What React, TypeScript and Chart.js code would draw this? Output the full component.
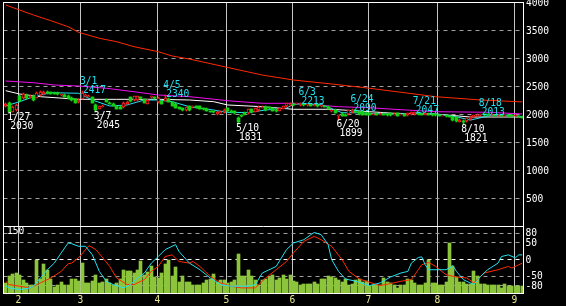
import React, { useEffect, useRef } from "react";
import { Chart, registerables } from "chart.js";
Chart.register(...registerables);

const W = 566;
const H = 306;

// ---- categories (trading-day index 0 = 2022-01-26) ----
const monthLabels = ["2", "3", "4", "5", "6", "7", "8", "9"];
const monthStart = [4, 22, 44, 64, 83, 105, 125, 147];
const dayCount = 150;

const priceTicks = [500, 1000, 1500, 2000, 2500, 3000, 3500, 4000];
const rciTicks = [80, 50, 0, -50, -80];
const volumeTickLabel = 150;

// ---- daily candles ----
const opens = [
  2152, 2205, 2045, 2080, 2330, 2295, 2348, 2300, 2330, 2300,
  2340, 2360, 2405, 2395, 2390, 2385, 2340, 2355, 2330, 2300,
  2270, 2215, 2280, 2330, 2320, 2310, 2170, 2100, 2140, 2259,
  2205, 2190, 2152, 2140, 2130, 2180, 2310, 2260, 2260, 2310,
  2270, 2190, 2315, 2300, 2215, 2240, 2250, 2280, 2220, 2190,
  2130, 2115, 2080, 2150, 2130, 2150, 2150, 2110, 2100, 2060,
  2050, 2010, 2030, 2045, 2116, 2070, 2060, 1938, 1975, 2030,
  2025, 2090, 2050, 2080, 2125, 2135, 2120, 2115, 2080, 2065,
  2100, 2152, 2170, 2190, 2190, 2165, 2190, 2170, 2180, 2160,
  2170, 2150, 2150, 2135, 2060, 2080, 1965, 2010, 2000, 2009,
  2040, 2080, 2045, 2050, 2030, 2020, 2000, 2015, 2000, 2010,
  2000, 2020, 2000, 2020, 1995, 2010, 1990, 2010, 2010, 2035,
  2015, 2000, 2015, 2000, 1995, 1990, 1980, 1990, 1970, 1960,
  1950, 1870, 1880, 1880, 1920, 1950, 1970, 1990, 2000, 1995,
  1990, 1995, 1985, 1990, 1980, 1985, 1975, 1970, 1975, 1960,
];
const highs = [
  2200, 2215, 2150, 2190, 2340, 2380, 2360, 2345, 2340, 2395,
  2415, 2412, 2412, 2405, 2400, 2395, 2375, 2365, 2340, 2310,
  2280, 2270, 2417, 2360, 2350, 2320, 2180, 2160, 2175, 2270,
  2215, 2200, 2160, 2150, 2215, 2235, 2320, 2338, 2335, 2320,
  2280, 2270, 2335, 2310, 2305, 2250, 2340, 2290, 2230, 2200,
  2140, 2125, 2140, 2160, 2160, 2160, 2155, 2120, 2110, 2070,
  2060, 2055, 2060, 2090, 2125, 2080, 2070, 1950, 1990, 2040,
  2105, 2100, 2125, 2145, 2150, 2145, 2130, 2125, 2090, 2125,
  2160, 2210, 2200, 2200, 2212, 2213, 2200, 2190, 2190, 2185,
  2180, 2170, 2160, 2145, 2080, 2090, 2000, 2020, 2010, 2085,
  2090, 2085, 2055, 2060, 2040, 2030, 2025, 2025, 2020, 2020,
  2010, 2025, 2020, 2025, 2015, 2015, 2030, 2045, 2047, 2040,
  2025, 2030, 2020, 2010, 2005, 2000, 1998, 1995, 1980, 1965,
  1955, 1915, 1900, 1945, 1970, 1995, 2008, 2013, 2008, 2000,
  2005, 2000, 1998, 1995, 1995, 1990, 1985, 1985, 1980, 1965,
];
const lows = [
  2140, 2030, 2040, 2070, 2230, 2285, 2285, 2290, 2250, 2290,
  2330, 2350, 2370, 2365, 2360, 2350, 2330, 2310, 2280, 2250,
  2200, 2200, 2270, 2320, 2310, 2200, 2045, 2090, 2130, 2215,
  2180, 2150, 2090, 2090, 2120, 2170, 2230, 2250, 2250, 2285,
  2200, 2180, 2300, 2280, 2205, 2180, 2240, 2220, 2150, 2110,
  2090, 2070, 2070, 2065, 2120, 2110, 2090, 2080, 2060, 2040,
  2035, 2000, 2020, 2035, 2050, 2030, 2015, 1831, 1950, 2000,
  2015, 2035, 2040, 2070, 2115, 2070, 2105, 2055, 2050, 2055,
  2090, 2140, 2160, 2160, 2180, 2155, 2160, 2160, 2150, 2150,
  2140, 2140, 2130, 2090, 2050, 2020, 1899, 1965, 1970, 2000,
  2030, 2030, 2000, 1990, 1990, 1990, 1990, 1985, 1990, 1985,
  1980, 1980, 1990, 1970, 1985, 1965, 1980, 2000, 2000, 2000,
  1990, 1990, 1985, 1980, 1975, 1965, 1970, 1955, 1950, 1890,
  1870, 1860, 1821, 1870, 1910, 1940, 1960, 1980, 1980, 1975,
  1980, 1970, 1975, 1965, 1970, 1960, 1955, 1960, 1950, 1935,
];
const closes = [
  2188, 2045, 2134, 2170, 2241, 2366, 2295, 2330, 2259, 2384,
  2400, 2405, 2380, 2375, 2370, 2360, 2366, 2320, 2290, 2260,
  2210, 2260, 2390, 2345, 2335, 2210, 2080, 2150, 2160, 2223,
  2188, 2160, 2100, 2100, 2205, 2225, 2240, 2330, 2330, 2295,
  2210, 2260, 2325, 2290, 2295, 2190, 2290, 2230, 2160, 2120,
  2100, 2080, 2130, 2075, 2150, 2120, 2100, 2090, 2070, 2050,
  2045, 2045, 2050, 2080, 2060, 2040, 2025, 1866, 1970, 2010,
  2095, 2045, 2115, 2135, 2140, 2080, 2115, 2065, 2060, 2116,
  2150, 2205, 2190, 2170, 2210, 2205, 2170, 2180, 2160, 2175,
  2150, 2160, 2140, 2100, 2070, 2030, 1995, 1975, 1980, 2080,
  2085, 2040, 2010, 2000, 2000, 2000, 2015, 1995, 2010, 1995,
  1990, 1990, 2015, 1980, 2010, 1975, 2025, 2040, 2040, 2010,
  2000, 2020, 1995, 1990, 1985, 1975, 1990, 1965, 1960, 1900,
  1880, 1910, 1860, 1940, 1960, 1990, 2000, 2005, 1990, 1985,
  2000, 1980, 1990, 1975, 1985, 1970, 1965, 1975, 1960, 1945,
];
const volumes = [
  24, 41, 46, 48, 43, 31, 24, 19, 19, 79,
  34, 70, 55, 34, 14, 19, 26, 19, 19, 34,
  34, 29, 72, 24, 24, 29, 43, 24, 26, 34,
  24, 19, 24, 34, 55, 53, 53, 48, 55, 77,
  43, 50, 65, 38, 36, 48, 70, 79, 41, 62,
  26, 41, 26, 26, 19, 19, 19, 24, 31, 34,
  46, 26, 31, 31, 24, 26, 31, 94, 41, 41,
  55, 41, 31, 19, 31, 34, 38, 43, 31, 36,
  43, 34, 43, 29, 26, 19, 22, 22, 22, 26,
  22, 34, 34, 41, 38, 36, 31, 26, 34, 19,
  22, 31, 34, 26, 29, 17, 19, 19, 19, 36,
  26, 24, 19, 12, 19, 19, 34, 31, 24, 19,
  19, 24, 79, 24, 24, 19, 19, 26, 120, 65,
  38, 26, 26, 22, 22, 53, 41, 22, 22, 19,
  19, 19, 19, 12, 22, 17, 17, 17, 17, 17,
];

// ---- moving averages (read at vertices) ----
const maLongIdx = [0, 4, 8, 13, 18, 21, 27, 32, 37, 44, 48, 53, 63, 74, 83, 94, 105, 124, 137, 149];
const maLongVal = [3955, 3866, 3777, 3675, 3568, 3468, 3361, 3300, 3211, 3121, 3045, 2990, 2854, 2705, 2616, 2545, 2468, 2318, 2259, 2225];
const ma75Idx = [0, 8, 14, 21, 29, 37, 44, 53, 65, 74, 83, 96, 105, 112, 124, 140, 149];
const ma75Val = [2598, 2568, 2527, 2509, 2468, 2407, 2348, 2318, 2241, 2200, 2200, 2139, 2121, 2093, 2050, 2039, 2009];
const ma25Idx = [0, 4, 10, 21, 32, 44, 53, 60, 64, 74, 83, 94, 105, 112, 124, 134, 149];
const ma25Val = [2425, 2366, 2318, 2271, 2271, 2271, 2259, 2229, 2170, 2139, 2093, 2093, 2050, 2021, 2009, 1955, 1955];
const ma5Idx = [0, 4, 8, 13, 21, 25, 30, 35, 40, 44, 48, 53, 60, 64, 70, 75, 81, 83, 85, 91, 95, 97, 102, 105, 112, 118, 124, 130, 134, 140, 146, 149];
const ma5Val = [2152, 2229, 2318, 2390, 2379, 2259, 2152, 2170, 2259, 2259, 2229, 2139, 2080, 2036, 2036, 2080, 2116, 2180, 2188, 2180, 2080, 2032, 2032, 2020, 2005, 2025, 2009, 1960, 1900, 1985, 1990, 1960];

// ---- RCI (lower panel) ----
const rciShortIdx = [0, 1, 4, 7, 8, 10, 12, 14, 16, 18, 19, 21, 23, 25, 27, 29, 31, 34, 36, 38, 40, 42, 44, 46, 49, 50, 53, 56, 59, 62, 65, 70, 72, 74, 78, 81, 83, 86, 88, 89, 91, 93, 94, 96, 98, 101, 104, 105, 108, 111, 114, 116, 117, 119, 120, 121, 122, 127, 129, 130, 132, 135, 137, 139, 142, 143, 145, 147, 148, 149];
const rciShortVal = [-81, -86, -91, -86, -81, -56, -31, -11, 20, 50, 48, 40, 40, 14, -36, -66, -76, -86, -76, -56, -41, -11, 9, 30, 45, 24, -11, -31, -56, -76, -81, -81, -76, -41, -21, 30, 50, 60, 75, 82, 75, 45, 0, -36, -59, -66, -76, -79, -71, -53, -41, -36, -11, 6, 8, -16, -31, -31, -19, -36, -61, -76, -51, -31, -11, 9, 14, 5, 14, 14];
const rciLongIdx = [0, 1, 4, 7, 10, 13, 16, 18, 19, 21, 24, 26, 28, 30, 32, 35, 37, 40, 42, 44, 46, 48, 50, 53, 54, 56, 59, 62, 65, 68, 72, 75, 78, 81, 83, 86, 89, 91, 94, 97, 99, 102, 104, 108, 111, 114, 117, 119, 120, 122, 124, 127, 130, 133, 135, 138, 142, 145, 146, 149];
const rciLongVal = [-66, -76, -81, -86, -71, -56, -36, -13, -11, 5, 42, 30, 5, -21, -56, -76, -76, -61, -36, -21, 9, 14, -6, -11, -6, -21, -51, -71, -81, -86, -86, -56, -31, -6, 20, 55, 70, 60, 40, 0, -36, -59, -66, -79, -73, -66, -61, -31, -16, -9, -21, -46, -53, -56, -71, -41, -31, -21, -26, -11];

// ---- high / low annotations ----
const annDates = ["1/27", "3/1", "3/7", "4/5", "5/10", "6/3", "6/20", "6/24", "7/21", "8/10", "8/18"];
const annIdx = [1, 22, 26, 46, 67, 85, 96, 100, 118, 132, 137];
const annValues = [2030, 2417, 2045, 2340, 1831, 2213, 1899, 2090, 2047, 1821, 2013];
const annKinds = ["low", "high", "low", "high", "low", "high", "low", "high", "high", "low", "high"];

// ---- colours ----
const C_UP = "#ff2020";
const C_DOWN = "#14d214";
const C_LONG = "#ff2a00";
const C_MAG = "#f010f0";
const C_WHITE = "#ffffff";
const C_CYAN = "#22e2f2";
const C_VOL = "#8cc43c";
const C_MONTH = "#e8e890";
const FONT = '9.6px "DejaVu Sans Mono", monospace';

// ---- layout (pixels) ----
const AREA = { left: 4, top: 2, right: 524, bottom: 293 };
const PRICE_TOP_PX = 2.5;
const DIVIDER_PX = 226.5;
const OSC_BOT_PX = 292.5;
const VOL_ZERO_PX = 293;

const kP = (DIVIDER_PX - PRICE_TOP_PX) / 4000;
const priceMax = 4000 + (PRICE_TOP_PX - AREA.top) / kP;
const priceMin = 0 - (AREA.bottom - DIVIDER_PX) / kP;
const kO = (OSC_BOT_PX - DIVIDER_PX) / 200;
const oscMax = 100 + (DIVIDER_PX - AREA.top) / kO;
const oscMin = -100 - (AREA.bottom - OSC_BOT_PX) / kO;
const kV = (VOL_ZERO_PX - DIVIDER_PX) / 160;
const volMax = (AREA.bottom - AREA.top) / kV;

const pts = (idx: number[], val: number[]) => idx.map((x, k) => ({ x, y: val[k] }));
const isUp = (i: number) => closes[i] >= opens[i];

const fy = (v: number) => Math.floor(v) + 0.5;
const rx = (v: number) => Math.round(v) + 0.5;

// snap bar elements (positioned by the scales) to whole device pixels
const snapPlugin = {
  id: "snap",
  afterDatasetsUpdate(chart: any) {
    chart.data.datasets.forEach((_: any, di: number) => {
      const meta = chart.getDatasetMeta(di);
      if (meta.type !== "bar") return;
      meta.data.forEach((el: any) => {
        const w = el.width;
        el.x = Math.round(el.x - w / 2) + w / 2;
        el.y = Math.round(el.y);
        el.base = Math.round(el.base);
      });
    });
  },
};

const panelPlugin = {
  id: "panels",
  beforeDatasetsDraw(chart: any) {
    const { ctx, scales } = chart;
    const x = scales.x, yP = scales.yP, yO = scales.yO, yV = scales.yV;
    const left = rx(x.getPixelForValue(-0.5)) - 1;
    const right = rx(x.getPixelForValue(dayCount - 0.5)) - 1;
    const top = fy(yP.getPixelForValue(4000));
    const bottom = fy(yV.getPixelForValue(0));
    ctx.save();
    ctx.lineWidth = 1;
    ctx.strokeStyle = "#c4c4c4";
    monthStart.forEach((m) => {
      const px = rx(x.getPixelForValue(m - 0.5));
      ctx.beginPath();
      ctx.moveTo(px, top);
      ctx.lineTo(px, bottom);
      ctx.stroke();
    });
    ctx.setLineDash([4, 4]);
    ctx.strokeStyle = "#9c9c9c";
    priceTicks.filter((v) => v < 4000).forEach((v) => {
      const py = fy(yP.getPixelForValue(v));
      ctx.beginPath();
      ctx.moveTo(left, py);
      ctx.lineTo(right, py);
      ctx.stroke();
    });
    rciTicks.forEach((v) => {
      const py = fy(yO.getPixelForValue(v));
      ctx.strokeStyle = v === 0 ? "#ffffff" : "#9c9c9c";
      ctx.beginPath();
      ctx.moveTo(left, py);
      ctx.lineTo(right, py);
      ctx.stroke();
    });
    ctx.restore();
  },
  afterDatasetsDraw(chart: any) {
    const { ctx, scales } = chart;
    const x = scales.x, yP = scales.yP, yO = scales.yO, yV = scales.yV;
    const left = rx(x.getPixelForValue(-0.5)) - 1;
    const right = rx(x.getPixelForValue(dayCount - 0.5)) - 1;
    const top = fy(yP.getPixelForValue(4000));
    const divider = fy(yP.getPixelForValue(0));
    const bottom = fy(yV.getPixelForValue(0));
    ctx.save();
    ctx.strokeStyle = "#ffffff";
    ctx.lineWidth = 1;
    ctx.setLineDash([]);
    ctx.strokeRect(left, top, right - left, bottom - top);
    ctx.beginPath();
    ctx.moveTo(left, divider);
    ctx.lineTo(right, divider);
    ctx.stroke();

    ctx.font = FONT;
    ctx.textAlign = "left";
    ctx.textBaseline = "middle";
    ctx.fillStyle = "#ffffff";
    priceTicks.forEach((v) => {
      ctx.fillText(String(v), right + 2.5, yP.getPixelForValue(v) + 1);
    });
    rciTicks.forEach((v) => {
      ctx.fillText(String(v), right + 2, yO.getPixelForValue(v) + 0.5);
    });
    ctx.fillText(String(volumeTickLabel), left + 3.5, yV.getPixelForValue(volumeTickLabel) + 0.5);

    ctx.fillStyle = C_MONTH;
    ctx.textAlign = "center";
    ctx.textBaseline = "alphabetic";
    monthLabels.forEach((lab, k) => {
      ctx.fillText(lab, rx(x.getPixelForValue(monthStart[k] - 0.5)), bottom + 9);
    });

    ctx.textAlign = "left";
    annDates.forEach((d, k) => {
      const xc = x.getPixelForValue(annIdx[k]);
      const yv = yP.getPixelForValue(annValues[k]);
      if (annKinds[k] === "high") {
        ctx.fillStyle = C_CYAN;
        ctx.fillText(d, xc - 2, yv - 7.5);
        ctx.fillText(String(annValues[k]), xc + 1, yv + 1.5);
      } else {
        ctx.fillStyle = C_WHITE;
        ctx.fillText(d, xc - 2, yv + 7);
        ctx.fillText(String(annValues[k]), xc + 1, yv + 16);
      }
    });
    ctx.restore();
  },
};

const line = (data: any[], color: string, axis: string, order: number) => ({
  type: "line" as const,
  data,
  borderColor: color,
  borderWidth: 1,
  pointRadius: 0,
  tension: 0,
  yAxisID: axis,
  order,
});

export default function App() {
  const ref = useRef<HTMLCanvasElement>(null);
  useEffect(() => {
    const idx = opens.map((_, i) => i);
    const chart = new Chart(ref.current as HTMLCanvasElement, {
      type: "bar",
      data: {
        datasets: [
          {
            type: "bar",
            data: idx.map((i) => ({ x: i, y: volumes[i] })),
            backgroundColor: C_VOL,
            barThickness: 3,
            grouped: false,
            yAxisID: "yV",
            order: 20,
          } as any,
          line(pts(rciLongIdx, rciLongVal), C_LONG, "yO", 12),
          line(pts(rciShortIdx, rciShortVal), C_CYAN, "yO", 11),
          line(pts(maLongIdx, maLongVal), C_LONG, "yP", 9),
          line(pts(ma75Idx, ma75Val), C_MAG, "yP", 8),
          line(pts(ma25Idx, ma25Val), C_WHITE, "yP", 7),
          line(pts(ma5Idx, ma5Val), C_CYAN, "yP", 6),
          {
            type: "bar",
            data: idx.map((i) => ({ x: i, y: [lows[i], highs[i]] })),
            backgroundColor: idx.map((i) => (isUp(i) ? C_UP : C_DOWN)),
            barThickness: 1,
            grouped: false,
            yAxisID: "yP",
            order: 3,
          } as any,
          {
            type: "bar",
            data: idx.map((i) => ({ x: i, y: [Math.min(opens[i], closes[i]), Math.max(opens[i], closes[i])] })),
            backgroundColor: idx.map((i) => (isUp(i) ? "#000000" : C_DOWN)),
            borderColor: idx.map((i) => (isUp(i) ? C_UP : C_DOWN)),
            borderWidth: idx.map((i) => (isUp(i) ? 1 : 0)),
            borderSkipped: false,
            minBarLength: 1,
            barThickness: 3,
            grouped: false,
            yAxisID: "yP",
            order: 2,
          } as any,
        ],
      },
      options: {
        responsive: false,
        animation: false,
        events: [],
        layout: { padding: { left: AREA.left, top: AREA.top, right: W - AREA.right, bottom: H - AREA.bottom } },
        plugins: { legend: { display: false }, tooltip: { enabled: false } },
        scales: {
          x: { type: "linear", min: -0.5, max: dayCount - 0.5, display: false, offset: false },
          yP: { type: "linear", min: priceMin, max: priceMax, display: false },
          yO: { type: "linear", min: oscMin, max: oscMax, display: false },
          yV: { type: "linear", min: 0, max: volMax, display: false },
        },
      } as any,
      plugins: [snapPlugin, panelPlugin],
    });
    return () => chart.destroy();
  }, []);
  return (
    <div style={{ position: "fixed", left: 0, top: 0, width: W, height: H, background: "#000" }}>
      <canvas ref={ref} width={W} height={H} style={{ display: "block", width: W, height: H }} />
    </div>
  );
}
